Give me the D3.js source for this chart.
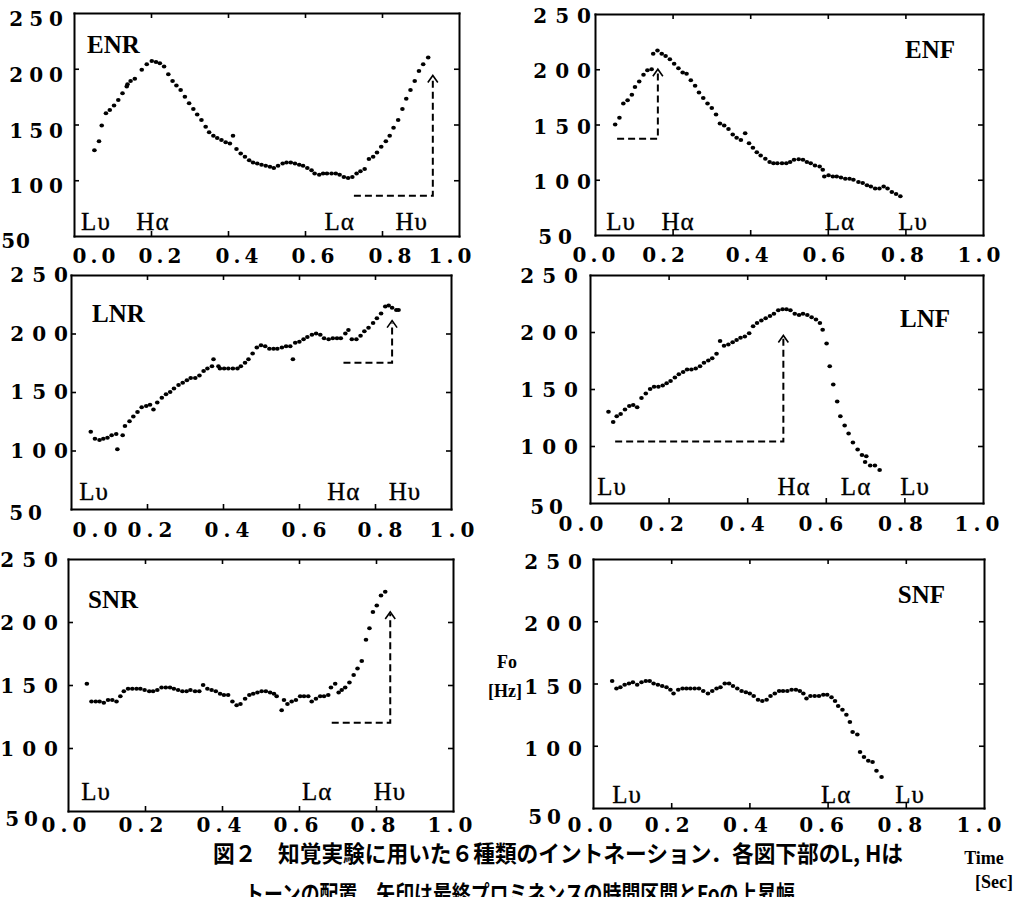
<!DOCTYPE html>
<html><head><meta charset="utf-8">
<script src="https://cdn.jsdelivr.net/npm/d3@7"></script>
<style>body{margin:0;background:#fff}svg{display:block}</style>
</head><body>
<svg id="chart" width="1020" height="897"></svg>
<script>
// ---------------- DATA ----------------
const xTickValues = [0, 0.2, 0.4, 0.6, 0.8, 1.0];
const xTickLabels = ["0.0", "0.2", "0.4", "0.6", "0.8", "1.0"];
const yTickValues = [50, 100, 150, 200, 250];
const yTickLabels = ["50", "100", "150", "200", "250"];
const panelNames = ["ENR", "ENF", "LNR", "LNF", "SNR", "SNF"];

// [time (sec), Fo (Hz)]
const enrPoints = [[0.053,127],[0.065,135],[0.072,149],[0.083,160],[0.093,163],[0.104,167],[0.115,172],[0.126,178],[0.137,184],[0.139,186],
 [0.147,189],[0.158,191],[0.176,199],[0.189,204],[0.202,207],[0.213,206],[0.223,205],[0.234,202],[0.245,195],[0.256,189],
 [0.266,185],[0.277,181],[0.288,175],[0.299,169],[0.31,164],[0.32,159],[0.331,154],[0.342,148],[0.351,143],[0.362,140],
 [0.372,138],[0.383,136],[0.394,134],[0.405,133],[0.413,140],[0.422,128],[0.433,124],[0.444,121],[0.455,118],[0.465,116],
 [0.476,115],[0.487,114],[0.498,113],[0.509,112],[0.519,111],[0.53,113],[0.542,115],[0.552,116],[0.563,116],[0.574,115],
 [0.585,114],[0.595,113],[0.606,111],[0.617,109],[0.625,106],[0.637,105],[0.647,106],[0.657,106],[0.669,106],[0.68,106],
 [0.69,105],[0.701,103],[0.712,102],[0.723,103],[0.734,106],[0.744,108],[0.755,110],[0.766,119],[0.777,121],[0.787,125],
 [0.798,130],[0.81,135],[0.82,140],[0.83,147],[0.842,154],[0.853,164],[0.863,173],[0.874,181],[0.885,189],[0.896,198],
 [0.907,204],[0.92,210]];

const enfPoints = [[0.052,150],[0.063,156],[0.073,169],[0.084,172],[0.095,177],[0.103,184],[0.114,189],[0.125,195],[0.135,199],[0.146,200],
 [0.150,214],[0.161,217],[0.172,214],[0.182,212],[0.193,209],[0.204,205],[0.215,201],[0.226,197],[0.236,196],[0.247,190],
 [0.258,185],[0.268,179],[0.279,174],[0.29,169],[0.301,165],[0.312,159],[0.322,151],[0.333,149],[0.344,146],[0.355,141],
 [0.365,138],[0.376,136],[0.387,142],[0.397,133],[0.407,129],[0.417,125],[0.427,122],[0.439,119],[0.45,116],[0.46,115],
 [0.47,115],[0.482,115],[0.493,115],[0.503,116],[0.513,118],[0.525,118.5],[0.536,118],[0.546,116],[0.556,115],[0.567,113],
 [0.579,112],[0.587,109],[0.591,103],[0.602,104],[0.613,103],[0.623,103],[0.634,102],[0.645,101],[0.656,101],[0.666,100],
 [0.679,98],[0.69,97],[0.701,95],[0.711,94],[0.722,92],[0.733,92],[0.744,94],[0.754,92],[0.765,89],[0.776,87],[0.787,85]];

const lnrPoints = [[0.052,116],[0.063,110],[0.075,109],[0.085,110],[0.096,111],[0.107,113],[0.119,114],[0.122,101],[0.136,113],[0.142,121],
 [0.154,125],[0.164,129],[0.175,133],[0.186,137],[0.198,138],[0.208,139],[0.217,135],[0.227,141],[0.239,145],[0.25,148],
 [0.261,150],[0.271,153],[0.283,156],[0.294,158],[0.305,160],[0.315,162],[0.327,162],[0.338,164],[0.349,168],[0.359,170],
 [0.371,172],[0.375,178],[0.388,172],[0.392,170],[0.403,170],[0.414,170],[0.426,170],[0.438,170],[0.447,172],[0.458,175],
 [0.467,178],[0.478,183],[0.489,188],[0.5,190],[0.511,189],[0.522,187],[0.533,187],[0.543,187],[0.555,188],[0.566,189],
 [0.577,189],[0.584,178],[0.59,192],[0.601,193],[0.612,195],[0.622,197],[0.634,199],[0.645,200],[0.656,199],[0.666,196],
 [0.678,195],[0.689,196],[0.7,196],[0.71,196],[0.722,200],[0.73,203],[0.739,195],[0.751,195],[0.762,198],[0.772,202],
 [0.783,205],[0.795,209],[0.805,213],[0.816,217],[0.827,223],[0.836,224],[0.845,222],[0.856,220],[0.862,220]];

const lnfPoints = [[0.047,130],[0.059,121],[0.068,126],[0.078,128],[0.089,132],[0.1,135],[0.11,136],[0.12,134],[0.131,142],[0.142,146],
 [0.153,150],[0.163,152],[0.174,152],[0.185,153],[0.195,155],[0.205,157],[0.216,160],[0.226,163],[0.237,165],[0.247,167],
 [0.258,167],[0.269,168],[0.28,170],[0.29,173],[0.301,175],[0.311,177],[0.322,181],[0.331,192],[0.341,188],[0.352,189],
 [0.363,191],[0.373,193],[0.383,195],[0.394,196],[0.405,199],[0.415,205],[0.425,208],[0.436,210],[0.447,212],[0.458,214],
 [0.468,216],[0.479,219],[0.49,220],[0.5,220],[0.51,219],[0.521,216],[0.532,215],[0.542,216],[0.553,215],[0.564,213],
 [0.575,211],[0.585,208],[0.592,202],[0.602,190],[0.61,170],[0.619,154],[0.629,139],[0.637,126],[0.648,118],[0.658,111],
 [0.669,103],[0.681,97],[0.692,92],[0.703,91],[0.7,86],[0.713,83],[0.725,83],[0.737,79]];

const snrPoints = [[0.049,151],[0.061,137],[0.072,137],[0.082,137],[0.093,136],[0.104,138],[0.115,138],[0.126,137],[0.136,141],[0.145,145],
 [0.156,147],[0.167,147],[0.178,147],[0.188,147],[0.199,146],[0.211,145],[0.221,145],[0.232,146],[0.243,148],[0.254,148],
 [0.265,148],[0.275,147],[0.286,146],[0.297,145],[0.308,145],[0.318,146],[0.33,145],[0.341,145],[0.351,150],[0.362,147],
 [0.373,146],[0.384,145],[0.395,143],[0.405,142],[0.416,142],[0.427,137],[0.438,134],[0.448,135],[0.46,139],[0.471,142],
 [0.481,143],[0.492,144],[0.503,145],[0.514,145],[0.525,144],[0.535,143],[0.542,141],[0.555,130],[0.561,138],[0.57,135],
 [0.581,137],[0.592,138],[0.603,141],[0.613,141],[0.624,141],[0.633,137],[0.644,139],[0.655,141],[0.665,141],[0.676,142],
 [0.683,148],[0.694,151],[0.703,144],[0.711,146],[0.72,148],[0.731,152],[0.742,158],[0.752,163],[0.763,169],[0.774,186],
 [0.783,195],[0.792,208],[0.802,213],[0.813,221],[0.824,224]];

const snfPoints = [[0.049,152],[0.06,146],[0.07,147],[0.081,149],[0.092,150],[0.102,151],[0.113,149],[0.124,151],[0.135,152],[0.145,152],
 [0.155,150],[0.166,149],[0.177,148],[0.188,147],[0.198,145],[0.206,142],[0.218,145],[0.229,146],[0.239,146],[0.249,146],
 [0.26,146],[0.271,146],[0.282,144],[0.294,142],[0.305,144],[0.316,146],[0.326,147],[0.337,150],[0.348,150],[0.358,148],
 [0.369,146],[0.38,144],[0.391,143],[0.401,142],[0.411,140],[0.422,137],[0.433,136],[0.444,137],[0.454,140],[0.465,142],
 [0.476,144],[0.486,144],[0.497,144],[0.508,145],[0.519,145],[0.529,144],[0.538,142],[0.546,138],[0.556,140],[0.567,140],
 [0.578,140],[0.589,141],[0.599,141],[0.61,139],[0.619,136],[0.627,132],[0.638,129],[0.648,125],[0.657,119],[0.664,111],
 [0.676,109],[0.683,95],[0.693,91],[0.704,88],[0.715,87],[0.725,80],[0.738,75]];

// Tone labels under each curve
const toneLabels = [["Lυ","Hα","Lα","Hυ"], ["Lυ","Hα","Lα","Lυ"], ["Lυ","Hα","Hυ"], ["Lυ","Hα","Lα","Lυ"], ["Lυ","Lα","Hυ"], ["Lυ","Lα","Lυ"]];
const toneTimes = [[0.057,0.205,0.69,0.877], [0.067,0.214,0.631,0.82], [0.061,0.718,0.879], [0.056,0.519,0.677,0.827], [0.073,0.647,0.836], [0.087,0.622,0.811]];

// Final prominence arrows: start time, end time, base Fo, tip Fo
const arrowStart = [0.727, 0.057, 0.717, 0.064, 0.685, null];
const arrowEnd   = [0.932, 0.162, 0.845, 0.492, 0.837, null];
const arrowBase  = [86, 137, 175, 104, 120, null];
const arrowTip   = [194, 200, 211, 197, 208, null];

const allPoints = [enrPoints, enfPoints, lnrPoints, lnfPoints, snrPoints, snfPoints];

const captionLine1 = "図２　知覚実験に用いた６種類のイントネーション．各図下部のL, Hは";
const captionLine2 = "トーンの配置，矢印は最終プロミネンスの時間区間とFoの上昇幅";
const yAxisTitle = ["Fo", "[Hz]"];
const xAxisTitle = ["Time", "[Sec]"];

// ---------------- LAYOUT (styling) ----------------
const layout = [
 {l:74, t:13, r:459, b:236, nameAnchor:"start", nameX:13, nameY:40, ylabR:-11, ylabDy:6, ylabLs:6, y50R:-44, y50Ls:1, y50Dy:5, xlabDy:19.5, xlabLs:4, xlabShift:[20,9,9,8,8,-9], toneDy:-6},
 {l:595, t:14, r:983, b:235, nameAnchor:"end", nameX:-28, nameY:44, ylabR:-4, ylabDy:2, ylabLs:8, y50R:-23, y50Ls:6, y50Dy:2, xlabDy:19.5, xlabLs:4, xlabShift:[-1,-9,-3,-4,-3,-4], toneDy:-5},
 {l:71, t:275, r:451, b:509, nameAnchor:"start", nameX:21, nameY:47, ylabR:-3, ylabDy:0, ylabLs:8, y50R:-29, y50Ls:5, y50Dy:4, xlabDy:21, xlabLs:5, xlabShift:[24,3,4,5,5,1], toneDy:-9},
 {l:590, t:275, r:983, b:503, nameAnchor:"end", nameX:-33, nameY:52, ylabR:-12, ylabDy:1, ylabLs:8, y50R:-27, y50Ls:5, y50Dy:4, xlabDy:20.5, xlabLs:5, xlabShift:[-9,-7,-5,-5,-4,-6], toneDy:-8},
 {l:68, t:559, r:453, b:811, nameAnchor:"start", nameX:20, nameY:49, ylabR:-10, ylabDy:1, ylabLs:8, y50R:-30, y50Ls:5, y50Dy:8, xlabDy:14, xlabLs:5, xlabShift:[-4,-4,-3,-3,-3,-3], toneDy:-11},
 {l:593, t:559, r:984, b:808, nameAnchor:"end", nameX:-39, nameY:44, ylabR:-11, ylabDy:3, ylabLs:8, y50R:-32, y50Ls:5, y50Dy:9, xlabDy:17, xlabLs:5, xlabShift:[-3,-4,-4,-6,-6,-5], toneDy:-5}
];

const tickFont = "'DejaVu Serif', serif";
const serif = "'Liberation Serif', 'Times New Roman', serif";

// ---------------- DRAW ----------------
const svg = d3.select("#chart");
svg.append("rect").attr("width", 1020).attr("height", 897).attr("fill", "#fff");

panelNames.forEach((name, i) => {
  const L = layout[i];
  const x = d3.scaleLinear().domain([0, 1]).range([L.l, L.r]);
  const y = d3.scaleLinear().domain([50, 250]).range([L.b, L.t]);
  const g = svg.append("g");
  const inner = xTickValues.slice(1, -1);
  const innerY = yTickValues.slice(1, -1);

  const axes = [
    [d3.axisBottom(x).tickValues(inner), `translate(0,${L.b})`],
    [d3.axisTop(x).tickValues(inner), `translate(0,${L.t})`],
    [d3.axisLeft(y).tickValues(innerY), `translate(${L.l},0)`],
    [d3.axisRight(y).tickValues(innerY), `translate(${L.r},0)`]
  ];
  axes.forEach(([ax, tr]) => {
    const a = g.append("g").attr("transform", tr)
      .call(ax.tickSizeInner(-5).tickSizeOuter(0).tickFormat(""));
    a.select(".domain").attr("stroke", "#000").attr("stroke-width", 2).attr("stroke-linecap", "square");
    a.selectAll(".tick line").attr("stroke", "#000").attr("stroke-width", 1.6);
  });

  // y tick labels
  yTickValues.forEach((v, k) => {
    const is50 = v === 50;
    const ls = is50 ? L.y50Ls : L.ylabLs;
    g.append("text")
      .attr("x", L.l + (is50 ? L.y50R : L.ylabR) + ls)
      .attr("y", y(v) + (is50 ? L.y50Dy : L.ylabDy) + 7)
      .attr("text-anchor", "end")
      .attr("font-family", tickFont).attr("font-weight", "bold").attr("font-size", 20)
      .attr("letter-spacing", ls)
      .text(yTickLabels[k]);
  });
  // x tick labels
  xTickValues.forEach((v, k) => {
    g.append("text")
      .attr("x", x(v) + L.xlabShift[k] + L.xlabLs / 2)
      .attr("y", L.b + L.xlabDy + 7)
      .attr("text-anchor", "middle")
      .attr("font-family", tickFont).attr("font-weight", "bold").attr("font-size", 20)
      .attr("letter-spacing", L.xlabLs)
      .text(xTickLabels[k]);
  });

  // panel name
  g.append("text")
    .attr("x", (L.nameAnchor === "start" ? L.l : L.r) + L.nameX)
    .attr("y", L.t + L.nameY)
    .attr("text-anchor", L.nameAnchor)
    .attr("font-family", serif).attr("font-weight", "bold").attr("font-size", 25)
    .text(name);

  // tone labels
  toneLabels[i].forEach((lab, k) => {
    g.append("text")
      .attr("x", x(toneTimes[i][k]))
      .attr("y", L.b + L.toneDy)
      .attr("text-anchor", "middle")
      .attr("font-family", serif).attr("font-size", 25).attr("letter-spacing", 1)
      .attr("stroke", "#000").attr("stroke-width", 0.3)
      .text(lab);
  });

  // arrow
  if (arrowStart[i] !== null) {
    const x0 = x(arrowStart[i]), x1 = x(arrowEnd[i]), yb = y(arrowBase[i]), yt = y(arrowTip[i]);
    g.append("path")
      .attr("d", `M${x0},${yb}H${x1}V${yt + 2}`)
      .attr("fill", "none").attr("stroke", "#000").attr("stroke-width", 2)
      .attr("stroke-dasharray", "7,4");
    g.append("path")
      .attr("d", `M${x1 - 5},${yt + 7}L${x1},${yt}L${x1 + 5},${yt + 7}`)
      .attr("fill", "none").attr("stroke", "#000").attr("stroke-width", 1.6);
  }

  // data dots
  g.append("g").selectAll("ellipse").data(allPoints[i]).join("ellipse")
    .attr("cx", d => x(d[0])).attr("cy", d => y(d[1]))
    .attr("rx", 2.3).attr("ry", 2).attr("fill", "#000");
});

// axis titles
svg.append("text").attr("x", 507).attr("y", 668).attr("text-anchor", "middle")
  .attr("font-family", serif).attr("font-weight", "bold").attr("font-size", 18).text(yAxisTitle[0]);
svg.append("text").attr("x", 505).attr("y", 697).attr("text-anchor", "middle")
  .attr("font-family", serif).attr("font-weight", "bold").attr("font-size", 18).text(yAxisTitle[1]);
svg.append("text").attr("x", 984).attr("y", 864).attr("text-anchor", "middle")
  .attr("font-family", serif).attr("font-weight", "bold").attr("font-size", 18).text(xAxisTitle[0]);
svg.append("text").attr("x", 994).attr("y", 888).attr("text-anchor", "middle")
  .attr("font-family", serif).attr("font-weight", "bold").attr("font-size", 18).text(xAxisTitle[1]);

// caption
svg.append("text").attr("x", 213).attr("y", 862)
  .attr("font-family", "'Noto Sans CJK JP', sans-serif").attr("font-weight", "bold").attr("font-size", 23)
  .attr("textLength", 690).attr("lengthAdjust", "spacingAndGlyphs")
  .text(captionLine1);
svg.append("text").attr("x", 245).attr("y", 902)
  .attr("font-family", "'Noto Sans CJK JP', sans-serif").attr("font-weight", "bold").attr("font-size", 23)
  .attr("textLength", 550).attr("lengthAdjust", "spacingAndGlyphs")
  .text(captionLine2);
</script>
</body></html>
